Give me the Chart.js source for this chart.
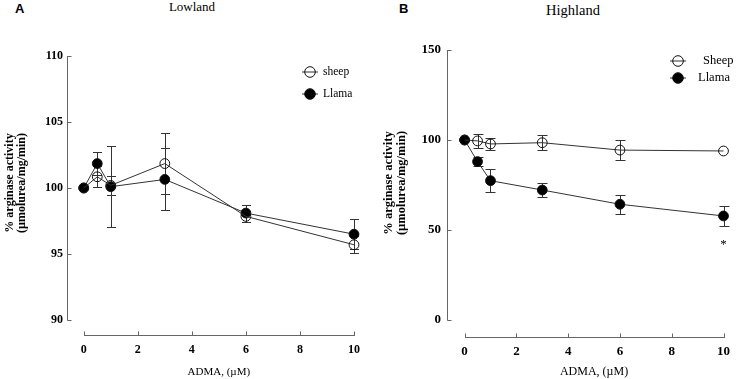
<!DOCTYPE html>
<html lang="en">
<head>
<meta charset="utf-8">
<script src="https://cdn.jsdelivr.net/npm/chart.js"></script>
<style>
  body { margin: 0; background: #fff; }
  #wrap { position: relative; width: 737px; height: 379px; overflow: hidden; }
  canvas { position: absolute; top: 0; }
  .tag { position: absolute; font-family: "Liberation Sans", Arial, sans-serif; font-weight: bold; font-size: 13px; line-height: 13px; }
  .ttl { position: absolute; font-family: "Liberation Serif", "Times New Roman", serif; text-align: center; white-space: nowrap; }
</style>
</head>
<body>
<div id="wrap">
  <div class="tag" style="left:15px;top:2px">A</div>
  <div class="ttl" style="left:142px;width:100px;top:0px;font-size:13px;line-height:13px">Lowland</div>
  <div class="tag" style="left:399px;top:2px">B</div>
  <div class="ttl" style="left:523px;width:100px;top:3px;font-size:14.5px;line-height:14.5px">Highland</div>
  <canvas id="lowland" width="368" height="379" style="left:0"></canvas>
  <canvas id="highland" width="369" height="379" style="left:368px"></canvas>
</div>
<script>
// ADMA doses (uM)
const doses = [0, 0.5, 1, 3, 6, 10];
const xTicks = [0, 2, 4, 6, 8, 10];

// Lowland
const lowSheep    = [100, 100.85, 100.2, 101.85, 97.85, 95.7];
const lowSheepErr = [0, 0.8, 0.7, 2.3, 0.4, 0.65];
const lowLlama    = [100, 101.85, 100.1, 100.65, 98.1, 96.5];
const lowLlamaErr = [0, 0.9, 3.05, 2.35, 0.65, 1.15];
const lowYTicks   = [90, 95, 100, 105, 110];

// Highland
const highSheep    = [100, 99.5, 97.8, 98.5, 94.4, 93.9];
const highSheepErr = [0, 3.7, 3.5, 4.3, 5.7, 0];
const highLlama    = [100, 88, 77.4, 72.2, 64.3, 57.8];
const highLlamaErr = [0, 2.7, 6.5, 4.1, 5.2, 5.3];
const highYTicks   = [0, 50, 100, 150];

const serif = '"Liberation Serif", "Times New Roman", serif';
const lineCol = '#333';
const axisCol = '#666';

function makePlugin(o) {
  return {
    id: 'panel',
    beforeDatasetsDraw(chart) {
      const {ctx, scales: {x, y}} = chart;
      ctx.save();
      ctx.strokeStyle = lineCol;
      ctx.lineWidth = 1;
      chart.data.datasets.forEach(ds => {
        ds.data.forEach((p, i) => {
          const e = ds.err[i];
          if (!e) return;
          const px = Math.round(x.getPixelForValue(p.x)) + 0.5;
          const t = Math.round(y.getPixelForValue(p.y + e)) + 0.5;
          const b = Math.round(y.getPixelForValue(p.y - e)) + 0.5;
          ctx.beginPath();
          ctx.moveTo(px, t); ctx.lineTo(px, b);
          ctx.moveTo(px - o.cap, t); ctx.lineTo(px + o.cap, t);
          ctx.moveTo(px - o.cap, b); ctx.lineTo(px + o.cap, b);
          ctx.stroke();
        });
      });
      ctx.restore();
    },
    afterDraw(chart) {
      const {ctx, chartArea: ca, scales: {x, y}} = chart;
      ctx.save();
      // axes, detached
      ctx.strokeStyle = axisCol;
      ctx.lineWidth = 1;
      const ax = Math.round(ca.left) + 0.5;
      const yt0 = y.getPixelForValue(o.yTicks[0]);
      const yt1 = y.getPixelForValue(o.yTicks[o.yTicks.length - 1]);
      ctx.beginPath();
      ctx.moveTo(ax, Math.round(yt0) + 0.5); ctx.lineTo(ax, Math.round(yt1));
      o.yTicks.forEach(v => {
        const py = Math.round(y.getPixelForValue(v)) + 0.5;
        ctx.moveTo(ax, py); ctx.lineTo(ax + 4, py);
      });
      const by = Math.round(ca.bottom) + 0.5;
      ctx.moveTo(Math.round(x.getPixelForValue(xTicks[0])), by);
      ctx.lineTo(Math.round(x.getPixelForValue(xTicks[xTicks.length - 1])) + 1, by);
      xTicks.forEach(v => {
        const px = Math.round(x.getPixelForValue(v)) + 0.5;
        ctx.moveTo(px, by); ctx.lineTo(px, by - 4);
      });
      ctx.stroke();

      // axis titles
      ctx.fillStyle = '#000';
      ctx.textAlign = 'center';
      ctx.textBaseline = 'middle';
      ctx.font = o.xTitleFont + 'px ' + serif;
      const xc = (x.getPixelForValue(0) + x.getPixelForValue(10)) / 2;
      ctx.fillText('ADMA, (\u00b5M)', xc, o.xTitleY);
      ctx.font = 'bold ' + o.yTitleFont + 'px ' + serif;
      ['% arginase activity', '(\u00b5molurea/mg/min)'].forEach((t, i) => {
        ctx.save();
        ctx.translate(o.yTitleX[i], o.yTitleY);
        ctx.rotate(-Math.PI / 2);
        ctx.fillText(t, 0, 0);
        ctx.restore();
      });

      // legend
      ctx.font = o.legFont + 'px ' + serif;
      ctx.textAlign = 'left';
      chart.data.datasets.forEach((ds, i) => {
        const ly = o.legY[i];
        ctx.strokeStyle = lineCol;
        ctx.beginPath();
        ctx.moveTo(o.legX - 8, ly); ctx.lineTo(o.legX + 8, ly);
        ctx.stroke();
        ctx.beginPath();
        ctx.arc(o.legX, ly, 5.3, 0, Math.PI * 2);
        if (ds.pointBackgroundColor !== 'rgba(0,0,0,0)') {
          ctx.fillStyle = ds.pointBackgroundColor;
          ctx.fill();
        }
        ctx.strokeStyle = '#111';
        ctx.stroke();
        ctx.fillStyle = '#000';
        ctx.fillText(ds.label, o.legTX[i], ly);
      });

      // significance mark under the last Llama point
      if (o.star) {
        const ds = chart.data.datasets[1];
        const n = ds.data.length - 1;
        const px = x.getPixelForValue(ds.data[n].x);
        const py = y.getPixelForValue(ds.data[n].y - ds.err[n]);
        ctx.font = '13px ' + serif;
        ctx.textAlign = 'center';
        ctx.textBaseline = 'alphabetic';
        ctx.fillText('*', px, py + 22);
      }
      ctx.restore();
    }
  };
}

function panel(id, o) {
  const series = [
    {label: o.names[0], values: o.sheep, err: o.sheepErr, open: true},
    {label: o.names[1], values: o.llama, err: o.llamaErr, open: false}
  ];
  return new Chart(document.getElementById(id), {
    type: 'line',
    data: {
      datasets: series.map(s => ({
        label: s.label,
        data: doses.map((d, i) => ({x: d, y: s.values[i]})),
        err: s.err,
        borderColor: lineCol,
        borderWidth: 1,
        pointRadius: 4.9,
        pointBorderWidth: 1,
        pointBorderColor: '#111',
        pointBackgroundColor: s.open ? 'rgba(0,0,0,0)' : '#000',
        tension: 0,
        clip: false
      }))
    },
    options: {
      responsive: false,
      animation: false,
      devicePixelRatio: 1,
      layout: {padding: o.pad},
      plugins: {legend: {display: false}, tooltip: {enabled: false}},
      scales: {
        x: {
          type: 'linear', min: o.xMin, max: 10,
          grid: {display: false, drawTicks: false},
          border: {display: false},
          afterBuildTicks: sc => { sc.ticks = xTicks.map(v => ({value: v})); },
          afterFit: sc => { sc.height = o.xH; },
          ticks: {padding: o.xPad, color: '#000', font: {family: serif, size: o.tickFont, weight: 'bold'}}
        },
        y: {
          type: 'linear', min: o.yMin, max: o.yMax,
          grid: {display: false, drawTicks: false},
          border: {display: false},
          afterBuildTicks: sc => { sc.ticks = o.yTicks.map(v => ({value: v})); },
          afterFit: sc => { sc.width = o.yW; },
          ticks: {padding: o.yPad, color: '#000', font: {family: serif, size: o.tickFont, weight: 'bold'}}
        }
      }
    },
    plugins: [makePlugin(o)]
  });
}

panel('lowland', {
  names: ['sheep', 'Llama'],
  sheep: lowSheep, sheepErr: lowSheepErr, llama: lowLlama, llamaErr: lowLlamaErr,
  yTicks: lowYTicks, yMin: 88.864, yMax: 110, xMin: -0.62,
  pad: {top: 56, right: 11, bottom: 0, left: 0},
  yW: 67, xH: 44, xPad: 8, yPad: 4, tickFont: 12,
  cap: 4.5,
  xTitleFont: 11, xTitleY: 372,
  yTitleFont: 12, yTitleX: [10, 22], yTitleY: 183,
  legFont: 11.5, legX: 310, legY: [72, 94], legTX: [323, 323],
  star: false
});

panel('highland', {
  names: ['Sheep', 'Llama'],
  sheep: highSheep, sheepErr: highSheepErr, llama: highLlama, llamaErr: highLlamaErr,
  yTicks: highYTicks, yMin: -9.44, yMax: 150, xMin: -0.68,
  pad: {top: 50, right: 7.3, bottom: 0, left: 0},
  yW: 79, xH: 42, xPad: 7, yPad: 6, tickFont: 13,
  cap: 5,
  xTitleFont: 12, xTitleY: 372,
  yTitleFont: 12.5, yTitleX: [21, 34], yTitleY: 183,
  legFont: 12.5, legX: 310, legY: [61, 78], legTX: [335, 330],
  star: true
});
</script>
</body>
</html>
